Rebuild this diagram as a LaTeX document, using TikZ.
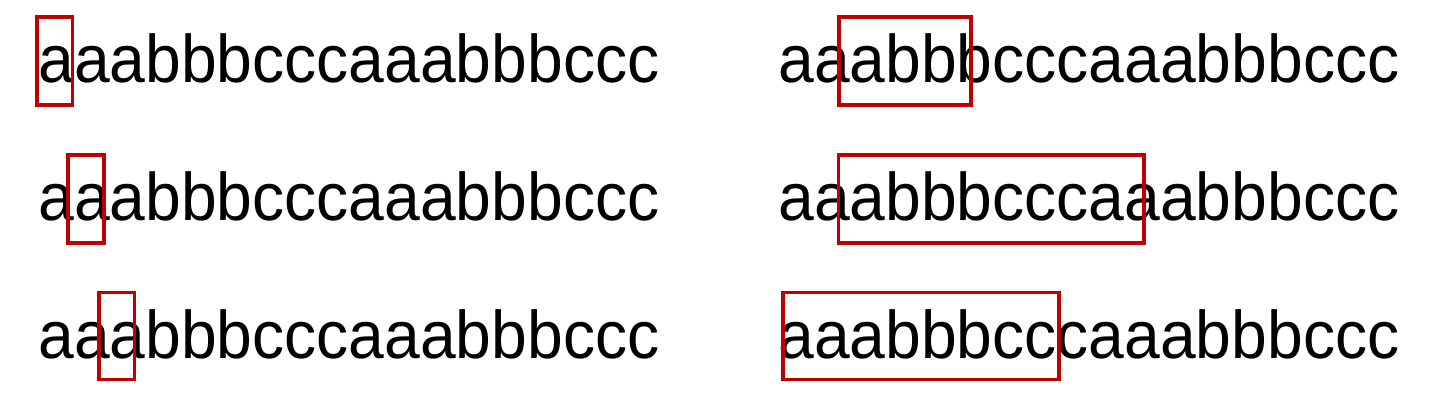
\documentclass[tikz,border=0pt]{standalone}
\usepackage{fontspec}
\setmainfont{Liberation Sans}
\definecolor{boxred}{RGB}{192,0,0}
\newcommand{\seqstr}{\scalebox{1}[1.05]{aaabbbcccaaabbbccc}}
\tikzset{
  seqtext/.style={anchor=base west, inner sep=0pt, outer sep=0pt, font=\fontsize{32.1}{38}\selectfont, text=black},
  hlbox/.style={draw=boxred, line width=1.9pt}
}
\begin{document}
\begin{tikzpicture}[x=0.5pt, y=-0.5pt]
\useasboundingbox (0,0) rectangle (1440,412);
% left column
\node[seqtext] (t1l) at (38.4,82.6) {\seqstr};
\node[seqtext] (t2l) at (38.4,220.4) {\seqstr};
\node[seqtext] (t3l) at (38.4,358.3) {\seqstr};
% right column
\node[seqtext] (t1r) at (778.4,82.6) {\seqstr};
\node[seqtext] (t2r) at (778.4,220.4) {\seqstr};
\node[seqtext] (t3r) at (778.4,358.3) {\seqstr};
% highlight boxes
\draw[hlbox] (36.9,16.9) rectangle (72.4,104.9);
\draw[hlbox] (67.7,155.2) rectangle (103.6,242.6);
\draw[hlbox] (98.6,292.4) rectangle (134.5,379.4);
\draw[hlbox] (838.6,16.9) rectangle (970.6,104.9);
\draw[hlbox] (838.4,155.2) rectangle (1144.1,242.6);
\draw[hlbox] (782.6,292.4) rectangle (1059.3,379.4);
\end{tikzpicture}
\end{document}
